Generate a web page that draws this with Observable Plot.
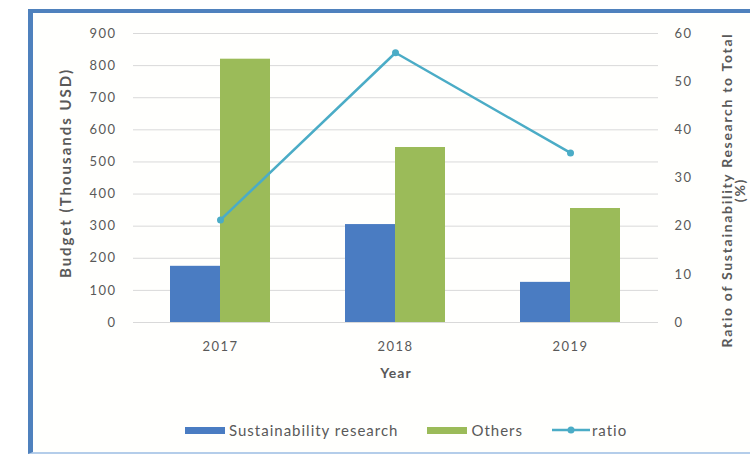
<!DOCTYPE html>
<html>
<head>
<meta charset="utf-8">
<script src="https://cdn.jsdelivr.net/npm/d3@7"></script>
<script src="https://cdn.jsdelivr.net/npm/@observablehq/plot@0.6"></script>
<style>
  html, body { margin: 0; padding: 0; background: #fff; }
  #wrap { position: relative; width: 750px; height: 457px; overflow: hidden; background: #fff; font-family: Lato, "Open Sans", sans-serif; }
  #frame { position: absolute; left: 28px; top: 9px; right: -30px; bottom: 3px;
           border-left: 5px solid #4f81bd; border-top: 4px solid #4f81bd; border-bottom: 2px solid #b4cdea; background: #fffffd; }
  #chart { position: absolute; left: 0; top: 0; }
  #legend { position: absolute; left: 185px; top: 421px; display: flex; align-items: center; font-size: 15px; letter-spacing: 1px; color: #595959; white-space: nowrap; }
  #legend .item { display: flex; align-items: center; margin-right: 29px; }
  #legend .sw { width: 40px; height: 7px; margin-right: 4px; }
</style>
</head>
<body>
<div id="wrap">
  <div id="frame"></div>
  <div id="chart"></div>
  <div id="legend"></div>
</div>
<script>
const years = ["2017", "2018", "2019"];
const sustainability = [175, 305, 125];
const others = [820, 545, 355];
const ratio = [21.3, 56.0, 35.2];
const leftTicks = [0, 100, 200, 300, 400, 500, 600, 700, 800, 900];
const rightTicks = [0, 10, 20, 30, 40, 50, 60];
const seriesNames = ["Sustainability research", "Others", "ratio"];
const colors = ["#4a7cc2", "#9bbb59", "#4bacc6"];

const k = leftTicks[leftTicks.length - 1] / rightTicks[rightTicks.length - 1];
const rows = years.map((y, i) => ({year: y, s: sustainability[i], o: others[i], r: ratio[i]}));

const chart = Plot.plot({
  width: 750,
  height: 385,
  marginTop: 33,
  marginBottom: 63,
  marginLeft: 133,
  marginRight: 92,
  style: {fontFamily: "Lato, 'Open Sans', sans-serif", fontSize: "13px", color: "#595959", background: "transparent"},
  x: {type: "band", domain: years, paddingInner: 75 / 175, paddingOuter: 37.5 / 175},
  y: {domain: [0, 900]},
  marks: [
    Plot.gridY(leftTicks, {stroke: "#d9d9d9", strokeOpacity: 1, strokeWidth: 1}),
    Plot.barY(rows, {x: "year", y: "s", fill: colors[0], insetRight: 50}),
    Plot.barY(rows, {x: "year", y: "o", fill: colors[1], insetLeft: 50}),
    Plot.line(rows, {x: "year", y: d => d.r * k, stroke: colors[2], strokeWidth: 2.5}),
    Plot.dot(rows, {x: "year", y: d => d.r * k, fill: colors[2], r: 3.5}),
    Plot.axisY(leftTicks, {anchor: "left", tickSize: 0, tickPadding: 17, label: null, fill: "#595959"}),
    Plot.axisY(rightTicks.map(v => v * k), {anchor: "right", tickSize: 0, tickPadding: 16, tickFormat: v => v / k, label: null, fill: "#595959"}),
    Plot.axisX(years, {tickSize: 0, tickPadding: 19, label: null, fill: "#595959"}),
    Plot.text(["Year"], {text: d => d, frameAnchor: "bottom", lineAnchor: "middle", dy: 51, fontWeight: "bold", fontSize: 14, fill: "#595959"}),
    Plot.text(["Budget (Thousands USD)"], {text: d => d, frameAnchor: "left", textAnchor: "middle", rotate: -90, dx: -67, dy: -5, fontWeight: "bold", fontSize: 15, fill: "#595959"}),
    Plot.text(["Ratio of Sustainability Research to Total\n(%)"], {text: d => d, frameAnchor: "right", textAnchor: "middle", rotate: -90, dx: 76, dy: 12, fontWeight: "bold", fontSize: 14, lineHeight: 0.95, fill: "#595959"})
  ]
});
document.getElementById("chart").appendChild(chart);

// letter spacing to mimic the wide, scanned Calibri look
d3.select(chart).selectAll('g[aria-label$="tick label"]').style("letter-spacing", "1.5px");
d3.select(chart).selectAll("g[aria-label='text'] text").each(function() {
  const t = this.textContent;
  if (t.startsWith("Budget")) d3.select(this).style("letter-spacing", "2px");
  else if (t.startsWith("Ratio")) d3.select(this).style("letter-spacing", "1.7px");
  else if (t === "Year") d3.select(this).style("letter-spacing", "1px");
});

const legend = document.getElementById("legend");
seriesNames.forEach((name, i) => {
  const item = document.createElement("div");
  item.className = "item";
  if (i < 2) {
    const sw = document.createElement("div");
    sw.className = "sw";
    sw.style.background = colors[i];
    item.appendChild(sw);
  } else {
    const ns = "http://www.w3.org/2000/svg";
    const s = document.createElementNS(ns, "svg");
    s.setAttribute("width", 38); s.setAttribute("height", 10);
    s.style.marginRight = "2px";
    const l = document.createElementNS(ns, "line");
    l.setAttribute("x1", 0); l.setAttribute("x2", 38); l.setAttribute("y1", 5); l.setAttribute("y2", 5);
    l.setAttribute("stroke", colors[2]); l.setAttribute("stroke-width", 2.5);
    const c = document.createElementNS(ns, "circle");
    c.setAttribute("cx", 19); c.setAttribute("cy", 5); c.setAttribute("r", 3.5); c.setAttribute("fill", colors[2]);
    s.appendChild(l); s.appendChild(c);
    item.appendChild(s);
  }
  const t = document.createElement("span");
  t.textContent = name;
  item.appendChild(t);
  legend.appendChild(item);
});
</script>
</body>
</html>
